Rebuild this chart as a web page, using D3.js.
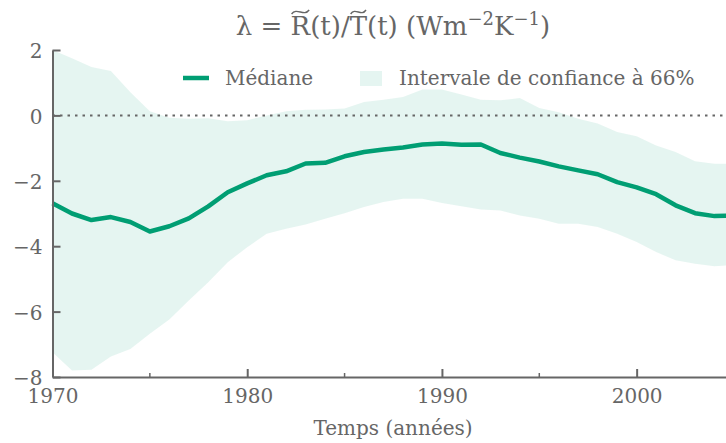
<!DOCTYPE html>
<html>
<head>
<meta charset="utf-8">
<script src="https://cdn.jsdelivr.net/npm/d3@7"></script>
<style>
  body { margin: 0; background: #fff; }
  text { font-family: "DejaVu Serif", serif; fill: #666; }
</style>
</head>
<body>
<div id="vis"></div>
<script>
// yearly values
const years = d3.range(1970, 2006);
const median = [-2.69, -3.0, -3.2, -3.11, -3.26, -3.55, -3.39, -3.15, -2.78, -2.35,
  -2.08, -1.83, -1.71, -1.47, -1.45, -1.25, -1.12, -1.04, -0.98, -0.89,
  -0.86, -0.90, -0.89, -1.15, -1.29, -1.41, -1.56, -1.68, -1.80, -2.04,
  -2.20, -2.41, -2.75, -2.99, -3.08, -3.06];
const upper = [2.0, 1.75, 1.48, 1.36, 0.71, 0.13, -0.07, -0.10, -0.09, -0.18,
  -0.15, 0.0, 0.13, 0.17, 0.18, 0.21, 0.41, 0.48, 0.56, 0.79,
  0.79, 0.64, 0.48, 0.46, 0.53, 0.23, 0.10, -0.10, -0.25, -0.51,
  -0.64, -0.92, -1.12, -1.40, -1.48, -1.48];
const lower = [-7.24, -7.8, -7.78, -7.37, -7.14, -6.68, -6.24, -5.66, -5.10, -4.49,
  -4.03, -3.62, -3.47, -3.34, -3.16, -2.99, -2.80, -2.65, -2.55, -2.55,
  -2.68, -2.78, -2.88, -2.91, -3.06, -3.16, -3.31, -3.31, -3.41, -3.62,
  -3.87, -4.18, -4.43, -4.54, -4.61, -4.58];
const xTicks = [1970, 1980, 1990, 2000];
const xMinor = [1975, 1985, 1995];
const yTicks = [-8, -6, -4, -2, 0, 2];

const width = 726, height = 443;
const green = "#009e73";
const grey = "#666";

const rows = years.map((yr, i) => ({ yr: yr, m: median[i], lo: lower[i], hi: upper[i] }));

const x = d3.scaleLinear().domain([1970, 2005]).range([52.5, 734]);
const y = d3.scaleLinear().domain([-8, 2]).range([377, 50]);

const svg = d3.select("#vis")
    .append("svg")
    .attr("width", width)
    .attr("height", height);

// confidence band
svg.append("path")
    .datum(rows)
    .attr("fill", green)
    .attr("fill-opacity", 0.1)
    .attr("d", d3.area().x(d => x(d.yr)).y0(d => y(d.lo)).y1(d => y(d.hi)));

// zero line
svg.append("line")
    .attr("x1", x(1970)).attr("x2", x(2005))
    .attr("y1", y(0)).attr("y2", y(0))
    .attr("stroke", grey)
    .attr("stroke-width", 2)
    .attr("stroke-dasharray", "2.5,5");

// median
svg.append("path")
    .datum(rows)
    .attr("fill", "none")
    .attr("stroke", green)
    .attr("stroke-width", 4.5)
    .attr("stroke-linejoin", "round")
    .attr("d", d3.line().x(d => x(d.yr)).y(d => y(d.m)));

// axes, ticks pointing inward
const yAxis = svg.append("g")
    .attr("transform", "translate(" + x(1970) + ",0)")
    .call(d3.axisLeft(y).tickValues(yTicks).tickSize(-8).tickSizeOuter(0).tickPadding(10));

const xAxis = svg.append("g")
    .attr("transform", "translate(0," + y(-8) + ")")
    .call(d3.axisBottom(x).tickValues(xTicks).tickFormat(d3.format("d")).tickSize(-8).tickSizeOuter(0).tickPadding(12));

svg.append("g")
    .attr("transform", "translate(0," + y(-8) + ")")
    .selectAll("line")
    .data(xMinor)
    .enter()
    .append("line")
    .attr("x1", d => x(d)).attr("x2", d => x(d))
    .attr("y1", 0).attr("y2", -4)
    .attr("stroke", grey)
    .attr("stroke-width", 1.5);

[yAxis, xAxis].forEach(g => {
  g.select(".domain").attr("stroke", grey).attr("stroke-width", 2);
  g.selectAll(".tick line").attr("stroke", grey).attr("stroke-width", 2);
  g.selectAll(".tick text")
      .style("font-family", "DejaVu Serif")
      .style("font-size", "20px")
      .attr("fill", grey);
});
yAxis.selectAll(".tick text").attr("dy", "0.38em");

// title, with wide tildes drawn over R and T
const title = svg.append("text")
    .attr("x", 393)
    .attr("y", 35)
    .attr("text-anchor", "middle")
    .style("font-size", "26px");
title.append("tspan").text("λ = R(t)/T(t) (Wm");
title.append("tspan").attr("dy", -10).style("font-size", "18px").text("−2");
title.append("tspan").attr("dy", 10).text("K");
title.append("tspan").attr("dy", -10).style("font-size", "18px").text("−1");
title.append("tspan").attr("dy", 10).text(")");

const titleStr = "λ = R(t)/T(t) (Wm";
[titleStr.indexOf("R"), titleStr.indexOf("T")].forEach(ci => {
  const box = title.node().getExtentOfChar(ci);
  const x0 = box.x + 1, x1 = box.x + box.width - 1, w = x1 - x0;
  const ty = 11;
  svg.append("path")
      .attr("d", "M" + x0 + "," + (ty + 3) +
        " C" + (x0 + w * 0.3) + "," + (ty - 4) + " " + (x0 + w * 0.7) + "," + (ty + 6) + " " + x1 + "," + (ty - 1))
      .attr("fill", "none")
      .attr("stroke", grey)
      .attr("stroke-width", 1.4);
});

// x label
svg.append("text")
    .attr("x", 393)
    .attr("y", 435)
    .attr("text-anchor", "middle")
    .style("font-size", "20px")
    .text("Temps (années)");

// legend
const legend = svg.append("g");
legend.append("line")
    .attr("x1", 183).attr("x2", 209)
    .attr("y1", 78).attr("y2", 78)
    .attr("stroke", green)
    .attr("stroke-width", 4.5);
legend.append("text")
    .attr("x", 225).attr("y", 85)
    .style("font-size", "20px")
    .text("Médiane");
legend.append("rect")
    .attr("x", 360).attr("y", 71)
    .attr("width", 22).attr("height", 15)
    .attr("fill", green)
    .attr("fill-opacity", 0.1);
legend.append("text")
    .attr("x", 399).attr("y", 85)
    .style("font-size", "20px")
    .text("Intervale de confiance à 66%");
</script>
</body>
</html>
